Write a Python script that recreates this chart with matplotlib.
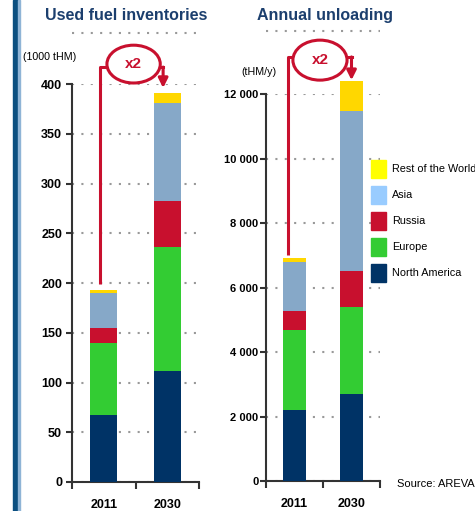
import matplotlib
matplotlib.use('Agg')
import matplotlib.pyplot as plt
from matplotlib.patches import Ellipse, Rectangle
from matplotlib.lines import Line2D

plt.rcParams['font.family'] = ['Liberation Sans', 'DejaVu Sans']

years = ['2011', '2030']
regions = ['North America', 'Europe', 'Russia', 'Asia', 'Rest of the World']

# used fuel inventories (1000 tHM)
inv_na = [67, 112]
inv_eu = [73, 124]
inv_ru = [15, 46]
inv_as = [35, 99]
inv_row = [3, 10]

# annual unloading (tHM/y)
unl_na = [2200, 2700]
unl_eu = [2490, 2700]
unl_ru = [590, 1100]
unl_as = [1520, 4980]
unl_row = [130, 910]

inv_ticks = [0, 50, 100, 150, 200, 250, 300, 350, 400]
unl_ticks = [0, 2000, 4000, 6000, 8000, 10000, 12000]

bar_colors = ['#003366', '#33CC33', '#C8102E', '#86A8C8', '#FFD700']
legend_colors = ['#003366', '#33CC33', '#C8102E', '#99CCFF', '#FFFF00']
red = '#C8102E'
navy = '#1C3F6E'

W, H = 475, 511
fig = plt.figure(figsize=(W / 100, H / 100), dpi=100)

# left frame decoration
fig.add_artist(Rectangle((13/W, 0), 6/W, 1, transform=fig.transFigure,
                         color='#0B4F80', zorder=0))
fig.add_artist(Rectangle((18/W, 0), 1.5/W, 1, transform=fig.transFigure,
                         color='#8FB4D6', zorder=0))

ax1 = fig.add_axes([72/W, 1 - 482/H, 127/W, 398/H])
ax2 = fig.add_axes([266/W, 1 - 481/H, 114/W, 387/H])


def stacked(ax, series, width):
    x = range(len(years))
    bottom = [0] * len(years)
    for vals, c in zip(series, bar_colors):
        ax.bar(x, vals, width, bottom=bottom, color=c, clip_on=False, zorder=3)
        bottom = [b + v for b, v in zip(bottom, vals)]
    return bottom


def style(ax, ticks, labels, size, pad):
    ax.set_xlim(-0.5, 1.5)
    ax.set_ylim(0, ticks[-1])
    ax.set_yticks(ticks)
    ax.set_yticklabels(labels, fontsize=size, fontweight='bold')
    ax.set_xticks([-0.5, 0.5, 1.5])
    ax.set_xticklabels([])
    ax.set_xticks([0, 1], minor=True)
    ax.set_xticklabels(years, minor=True, fontsize=9, fontweight='bold')
    ax.tick_params(axis='x', which='minor', length=0, pad=12)
    ax.tick_params(axis='x', which='major', length=5, width=1.5, color='#333333')
    ax.tick_params(axis='y', length=4, width=1.5, color='#333333', pad=pad)
    for s in ['top', 'right']:
        ax.spines[s].set_visible(False)
    for s in ['left', 'bottom']:
        ax.spines[s].set_linewidth(1.5)
        ax.spines[s].set_color('#333333')
    ax.set_axisbelow(True)
    ax.yaxis.grid(True, linestyle=(0, (1, 3.5)), color='#999999', linewidth=1.5)
    ax.patch.set_alpha(0)


tot1 = stacked(ax1, [inv_na, inv_eu, inv_ru, inv_as, inv_row], 0.425)
tot2 = stacked(ax2, [unl_na, unl_eu, unl_ru, unl_as, unl_row], 0.40)

style(ax1, inv_ticks, [str(t) for t in inv_ticks], 9, 3.2)
style(ax2, unl_ticks, [f'{t:,}'.replace(',', ' ') for t in unl_ticks], 8, 1.5)

# titles and dotted rule below
fig.text(126/W, 1 - 15/H, 'Used fuel inventories', ha='center', va='center',
         fontsize=11.5, fontweight='bold', color=navy)
fig.text(325/W, 1 - 15/H, 'Annual unloading', ha='center', va='center',
         fontsize=11.5, fontweight='bold', color=navy)
for ax, yf in [(ax1, 1.128), (ax2, 1.163)]:
    ax.add_line(Line2D([0, 1], [yf, yf], transform=ax.transAxes, clip_on=False,
                       linestyle=(0, (1, 3.5)), color='#999999', linewidth=1.5))

# unit labels
fig.text(50/W, 1 - 57/H, '(1000 tHM)', ha='center', va='center', fontsize=7.7)
fig.text(259/W, 1 - 72/H, '(tHM/y)', ha='center', va='center', fontsize=7.7)


def doubling(ax, x0, y0, ytop, ex, ey, ew, eh, x1, ytip):
    ax.plot([x0, x0, ex - ew / 2], [y0, ytop, ytop], color=red, lw=2.2,
            clip_on=False, solid_capstyle='butt', zorder=4)
    ax.add_patch(Ellipse((ex, ey), ew, eh, fill=False, edgecolor=red, lw=2.2,
                         clip_on=False, zorder=4))
    ax.plot([ex + ew / 2, x1], [ytop, ytop], color=red, lw=2.2, clip_on=False, zorder=4)
    ax.annotate('', xy=(x1, ytip), xytext=(x1, ytop),
                arrowprops=dict(arrowstyle='-|>', color=red, lw=2.2, mutation_scale=14,
                                shrinkA=0, shrinkB=0), annotation_clip=False, zorder=4)
    ax.text(ex, ey, 'x2', ha='center', va='center', fontsize=11, fontweight='bold',
            color=red, zorder=5)


doubling(ax1, -0.06, tot1[0] + 6, 417, 0.47, 420, 0.84, 38, 0.935, tot1[1] + 5)
doubling(ax2, -0.114, tot2[0] + 70, 13150, 0.447, 13050, 0.95, 1240, 1.0, tot2[1] + 40)

# legend, top entry first
for i, (name, c) in enumerate(zip(regions[::-1], legend_colors[::-1])):
    top = 160 + 26 * i
    fig.add_artist(Rectangle((371/W, 1 - (top + 18)/H), 15/W, 18/H,
                             transform=fig.transFigure, color=c))
    fig.text(392/W, 1 - (top + 9)/H, name, ha='left', va='center', fontsize=7.8)

fig.text(397/W, 1 - 484/H, 'Source: AREVA', ha='left', va='center', fontsize=8)

fig.savefig('out.png', dpi=100)
